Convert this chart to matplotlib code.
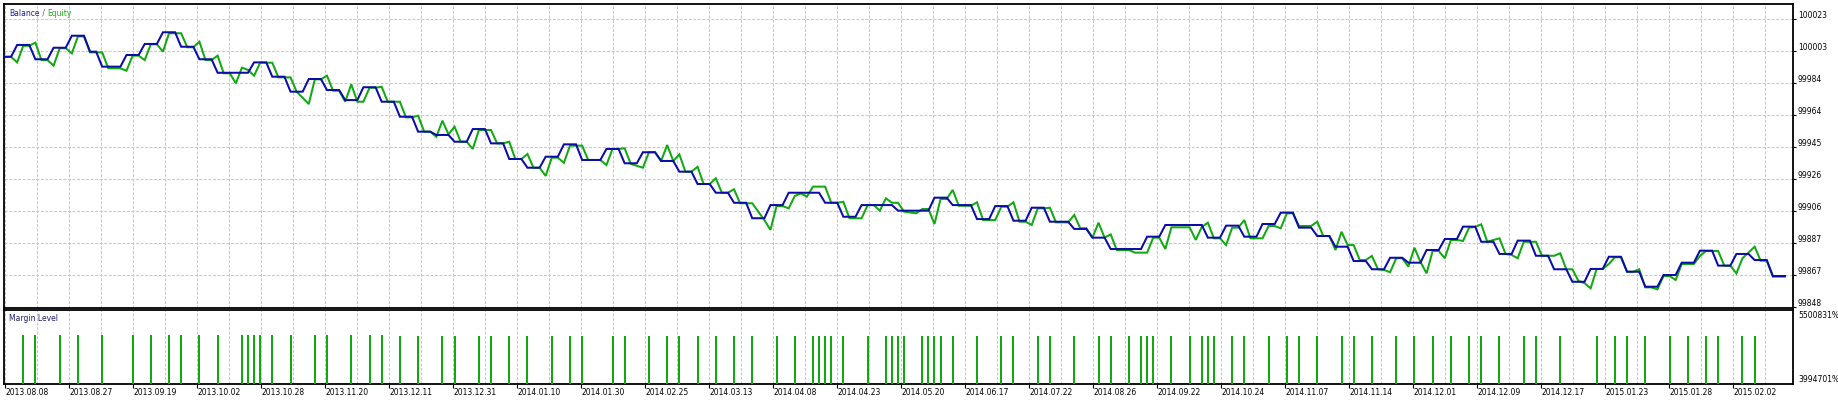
import matplotlib
matplotlib.use('Agg')
import matplotlib.pyplot as plt
from matplotlib.transforms import blended_transform_factory, ScaledTranslation

# ---- data ----------------------------------------------------------------
start_balance = 100000.0
last_deal = 293

# deal number where each trade closes (balance moves to the next level)
close_deal = [1, 4, 7, 10, 13, 15, 19, 22, 25, 28, 31, 34, 40, 43, 46, 49, 52,
              55, 58, 61, 64, 67, 70, 73, 76, 79, 82, 85, 88, 91, 94, 98, 101,
              104, 107, 110, 113, 116, 119, 122, 125, 128, 134, 137, 140, 146,
              152, 155, 159, 162, 165, 168, 171, 175, 178, 181, 187, 190, 197,
              200, 203, 206, 209, 212, 215, 218, 221, 224, 227, 230, 233, 236,
              239, 242, 245, 248, 251, 254, 257, 260, 263, 266, 269, 272, 275,
              278, 281, 284, 287, 290]
balance_after = [100007.2, 99998.5, 100005.5, 100012.8, 100003.1, 99994.0,
                 100001.1, 100007.8, 100014.9, 100006.1, 99998.5, 99990.3,
                 99996.6, 99987.9, 99978.8, 99986.5, 99979.8, 99973.7, 99981.5,
                 99972.7, 99963.6, 99954.5, 99952.5, 99948.4, 99956.1, 99947.4,
                 99937.9, 99932.6, 99939.3, 99946.8, 99937.3, 99944.0, 99935.3,
                 99942.0, 99936.7, 99930.2, 99922.7, 99917.4, 99911.3, 99901.9,
                 99909.9, 99917.4, 99911.3, 99902.8, 99909.9, 99906.5, 99914.4,
                 99909.9, 99901.4, 99909.3, 99900.4, 99908.3, 99899.8, 99895.4,
                 99890.1, 99883.2, 99890.7, 99897.8, 99890.1, 99897.4, 99890.7,
                 99898.4, 99905.3, 99896.2, 99891.1, 99884.6, 99875.9, 99870.9,
                 99877.9, 99874.9, 99882.6, 99889.3, 99896.8, 99887.6, 99880.2,
                 99888.3, 99879.1, 99870.9, 99863.3, 99871.1, 99878.5, 99869.4,
                 99860.3, 99867.4, 99874.9, 99882.2, 99873.1, 99880.2, 99876.5,
                 99866.8]

# equity curve corners (deal number, equity)
eq_deal = [0, 1, 2, 3, 4, 5, 6, 7, 8, 9, 10, 11, 12, 13, 14, 16, 17, 19, 20,
           21, 22, 23, 24, 25, 26, 27, 29, 30, 31, 32, 33, 34, 35, 36, 37, 38,
           39, 40, 41, 42, 44, 45, 47, 48, 50, 51, 52, 53, 54, 55, 56, 57, 58,
           59, 60, 61, 62, 63, 65, 66, 67, 68, 69, 70, 71, 72, 73, 74, 75, 76,
           77, 78, 80, 81, 82, 83, 84, 85, 86, 87, 88, 89, 90, 91, 92, 93, 95,
           96, 98, 99, 100, 101, 102, 103, 105, 106, 107, 108, 109, 110, 111,
           112, 113, 114, 115, 116, 117, 118, 119, 120, 121, 123, 125, 126,
           127, 128, 129, 130, 131, 132, 133, 135, 136, 137, 138, 139, 141,
           142, 143, 144, 145, 146, 147, 148, 150, 151, 152, 153, 154, 155,
           156, 157, 159, 160, 161, 163, 164, 165, 166, 167, 168, 169, 170,
           171, 172, 173, 175, 176, 177, 178, 179, 180, 181, 182, 183, 185,
           186, 188, 189, 190, 191, 192, 195, 196, 197, 198, 199, 200, 201,
           202, 203, 204, 205, 207, 208, 209, 210, 211, 212, 213, 215, 216,
           217, 218, 219, 220, 221, 222, 223, 224, 225, 226, 227, 228, 229,
           230, 231, 232, 233, 234, 235, 236, 237, 238, 239, 240, 241, 242,
           243, 244, 245, 246, 247, 248, 249, 250, 252, 253, 255, 256, 257,
           258, 259, 260, 261, 262, 263, 264, 265, 266, 267, 268, 269, 270,
           271, 272, 273, 274, 275, 276, 278, 279, 280, 282, 283, 284, 285,
           286, 288, 289, 290, 291, 293]
eq_value = [100000.0, 100000.0, 99996.6, 100006.7, 100006.7, 100008.6, 99998.0,
            99998.0, 99994.6, 100005.2, 100005.2, 100002.1, 100012.4, 100012.4,
            100002.7, 100002.7, 99993.0, 99993.0, 99991.5, 100000.7, 100000.7,
            99998.0, 100007.6, 100007.6, 100003.1, 100014.3, 100014.3, 100005.8,
            100005.8, 100009.2, 99998.0, 99998.0, 100000.7, 99990.0, 99990.0,
            99983.9, 99993.4, 99992.0, 99988.5, 99996.4, 99996.4, 99987.5,
            99987.5, 99978.8, 99971.3, 99986.3, 99986.3, 99988.5, 99979.4,
            99979.4, 99972.7, 99983.3, 99972.7, 99972.7, 99981.2, 99981.2,
            99981.8, 99972.7, 99972.7, 99963.2, 99963.2, 99964.2, 99954.5,
            99954.5, 99951.4, 99961.2, 99952.9, 99957.5, 99948.4, 99948.4,
            99944.0, 99955.5, 99955.5, 99947.4, 99947.4, 99948.4, 99937.9,
            99937.9, 99940.9, 99932.6, 99932.6, 99927.6, 99938.7, 99938.7,
            99935.6, 99946.0, 99946.0, 99937.3, 99937.3, 99934.2, 99944.0,
            99944.0, 99944.4, 99934.9, 99932.6, 99942.0, 99942.0, 99936.7,
            99946.4, 99936.7, 99940.7, 99930.2, 99930.2, 99933.2, 99922.7,
            99922.7, 99926.2, 99917.4, 99917.4, 99919.5, 99911.0, 99911.0,
            99900.8, 99894.8, 99909.3, 99909.3, 99907.9, 99915.4, 99917.0,
            99915.0, 99921.1, 99921.1, 99911.3, 99911.3, 99911.9, 99901.9,
            99901.9, 99909.9, 99909.9, 99906.5, 99914.0, 99911.3, 99911.3,
            99905.9, 99904.9, 99907.5, 99907.5, 99898.4, 99913.6, 99913.6,
            99919.1, 99909.5, 99909.5, 99911.6, 99900.8, 99900.8, 99908.9,
            99908.9, 99911.6, 99899.8, 99899.8, 99897.8, 99907.9, 99907.9,
            99908.3, 99899.4, 99899.4, 99903.9, 99895.8, 99895.8, 99890.1,
            99899.2, 99890.1, 99892.1, 99882.6, 99882.6, 99881.0, 99881.0,
            99890.1, 99890.1, 99883.2, 99896.4, 99896.4, 99888.7, 99896.6,
            99899.2, 99889.7, 99889.7, 99885.6, 99896.2, 99896.2, 99900.8,
            99889.7, 99889.7, 99897.2, 99897.2, 99895.8, 99904.9, 99904.9,
            99897.2, 99897.2, 99899.8, 99891.1, 99891.1, 99882.6, 99893.7,
            99885.6, 99885.6, 99876.5, 99876.5, 99879.0, 99870.9, 99870.5,
            99869.1, 99877.6, 99877.6, 99872.5, 99884.0, 99875.3, 99868.4,
            99882.0, 99882.0, 99877.6, 99888.7, 99888.7, 99888.1, 99896.2,
            99896.6, 99898.2, 99887.6, 99888.7, 99889.7, 99880.2, 99879.6,
            99877.6, 99887.6, 99887.6, 99879.1, 99879.1, 99880.6, 99870.9,
            99870.9, 99863.8, 99862.5, 99859.3, 99871.1, 99871.1, 99874.1,
            99878.2, 99878.2, 99869.4, 99869.4, 99870.9, 99859.9, 99859.9,
            99858.7, 99866.8, 99866.8, 99864.4, 99874.1, 99874.1, 99879.0,
            99882.0, 99882.0, 99873.1, 99873.1, 99868.4, 99877.6, 99884.6,
            99876.1, 99876.1, 99866.4, 99866.4]

# margin level (%) bars, by deal number
margin_deal = [3, 5, 9, 12, 16, 21, 24, 27, 29, 32, 35, 39, 40, 41, 42, 44, 47,
               51, 53, 57, 60, 62, 65, 68, 72, 74, 78, 80, 83, 86, 90, 93, 95,
               100, 102, 106, 109, 111, 114, 117, 120, 123, 127, 130, 133, 134,
               135, 136, 138, 142, 145, 146, 147, 148, 151, 152, 153, 154, 156,
               160, 164, 166, 170, 172, 176, 180, 182, 185, 187, 188, 189, 192,
               195, 197, 198, 199, 202, 204, 208, 211, 213, 216, 220, 222, 225,
               229, 232, 235, 238, 241, 243, 246, 250, 252, 256, 262, 265, 267,
               270, 274, 277, 280, 282, 286, 288]
margin_level = [5054000, 5054000, 5053000, 5054000, 5053000, 5053000, 5054000,
                5054000, 5053000, 5052000, 5053000, 5052000, 5052000, 5052000,
                5052000, 5052000, 5051000, 5051000, 5051000, 5050000, 5050000,
                5049000, 5032000, 5032000, 5031000, 5031000, 5031000, 5031000,
                5031000, 5031000, 5031000, 5031000, 5031000, 5031000, 5031000,
                5031000, 5031000, 5031000, 5031000, 5031000, 5031000, 5030000,
                5030000, 5030000, 5030000, 5030000, 5030000, 5030000, 5030000,
                5030000, 5030000, 5030000, 5030000, 5030000, 5030000, 5030000,
                5030000, 5030000, 5030000, 5030000, 5030000, 5030000, 5030000,
                5030000, 5030000, 5030000, 5029000, 5029000, 5029000, 5029000,
                5029000, 5029000, 5029000, 5029000, 5029000, 5029000, 5029000,
                5029000, 5029000, 5029000, 5029000, 5029000, 5029000, 5029000,
                5029000, 5029000, 5029000, 5029000, 5029000, 5029000, 5029000,
                5029000, 5029000, 5029000, 5029000, 5029000, 5029000, 5029000,
                5029000, 5029000, 5029000, 5029000, 5029000, 5029000, 5029000]
margin_max, margin_min = 5500831, 3994701

y_labels = ['100023', '100003', '99984', '99964', '99945', '99926', '99906',
            '99887', '99867', '99848']
y_top_grid = 100022.96
y_step = 19.443

date_labels = ['2013.08.08', '2013.08.27', '2013.09.19', '2013.10.02',
               '2013.10.28', '2013.11.20', '2013.12.11', '2013.12.31',
               '2014.01.10', '2014.01.30', '2014.02.25', '2014.03.13',
               '2014.04.08', '2014.04.23', '2014.05.20', '2014.06.17',
               '2014.07.22', '2014.08.26', '2014.09.22', '2014.10.24',
               '2014.11.07', '2014.11.14', '2014.12.01', '2014.12.09',
               '2014.12.17', '2015.01.23', '2015.01.28', '2015.02.02']

# ---- layout (pixels) --------------------------------------------------------
W, H = 1838, 401
BLUE = '#0c0ca6'
GREEN = '#12a812'
GRID = dict(color='#c8c8c8', linestyle=(0, (2.9, 1.45)), linewidth=0.75)
FS = 5.5
plt.rcParams['font.family'] = 'DejaVu Sans'

fig = plt.figure(figsize=(W / 100, H / 100), dpi=100)


def px_axes(left, top, right, bottom):
    return fig.add_axes([left / W, 1 - bottom / H, (right - left) / W,
                         (bottom - top) / H])


ax = px_axes(4, 4, 1793, 308)
axm = px_axes(4, 310, 1793, 384)

px_per_deal = 1780.0 / last_deal
xlim = (-1 / px_per_deal, 1788 / px_per_deal)
grid_x = [(0.3 + 32 * k) / px_per_deal for k in range(56)]
label_x = grid_x[::2]

# ---- balance / equity -------------------------------------------------------
bx, by = [0], [start_balance]
prev = start_balance
for d, v in zip(close_deal, balance_after):
    bx += [d, d + 1]
    by += [prev, v]
    prev = v
bx.append(last_deal)
by.append(prev)

ax.plot(eq_deal, eq_value, color=GREEN, lw=1.45, solid_joinstyle='miter',
        zorder=3)
ax.plot(bx, by, color=BLUE, lw=1.45, solid_joinstyle='miter', zorder=4)

y_ticks = [y_top_grid - y_step * k for k in range(len(y_labels))]
ax.set_xlim(*xlim)
ax.set_ylim(y_top_grid - 289 * y_step / 32, y_top_grid + 15 * y_step / 32)
ax.set_yticks(y_ticks)
ax.set_xticks(grid_x)
ax.yaxis.tick_right()
ax.tick_params(axis='y', length=2, width=0.8, labelright=False,
               labelleft=False)
ax.tick_params(axis='x', length=0, labelbottom=False)
ax.grid(True, **GRID)
ax.set_axisbelow(True)

lab_tr = blended_transform_factory(ax.transAxes, ax.transData) + \
    ScaledTranslation(5 / 100, 3.5 / 100, fig.dpi_scale_trans)
for v, s in zip(y_ticks, y_labels):
    ax.text(1, v, s, transform=lab_tr, fontsize=FS, va='center', ha='left',
            clip_on=False)

t1 = ax.text(5 / 1789, 1 - 9 / 304, 'Balance', transform=ax.transAxes,
             fontsize=FS, color='#1c1c9c', va='center', ha='left')
t2 = ax.annotate(' / ', xy=(1, 0), xycoords=t1, fontsize=FS,
                 color='#555555', va='bottom', ha='left')
ax.annotate('Equity', xy=(1, 0), xycoords=t2, fontsize=FS, color='#1fae1f',
            va='bottom', ha='left')

# ---- margin level -----------------------------------------------------------
per_px = (margin_max - margin_min) / 64.0
m_lo = margin_min - 4 * per_px
m_hi = margin_max + 6 * per_px
axm.vlines(margin_deal, m_lo, margin_level, color=GREEN, lw=1.45, zorder=3)
axm.set_xlim(*xlim)
axm.set_ylim(m_lo, m_hi)
axm.set_yticks([])
axm.set_xticks(label_x)
axm.set_xticks(grid_x, minor=True)
axm.set_xticklabels(date_labels, fontsize=FS, ha='left')
axm.tick_params(axis='x', which='major', length=3, width=0.8, pad=0.2)
axm.tick_params(axis='x', which='minor', length=0)
axm.grid(True, axis='x', which='both', **GRID)
axm.set_axisbelow(True)

axm.text(5 / 1789, (384 - 318.3) / 74, 'Margin Level', transform=axm.transAxes,
         fontsize=FS, color='#1c1c6c', va='center', ha='left')
for frac, s in [((384 - 316) / 74, f'{margin_max}%'),
                ((384 - 380) / 74, f'{margin_min}%')]:
    axm.text(1, frac, s, transform=axm.transAxes + ScaledTranslation(
        5 / 100, 0, fig.dpi_scale_trans), fontsize=FS, va='center',
        ha='left', clip_on=False)

for a in (ax, axm):
    for sp in a.spines.values():
        sp.set_linewidth(1.3)
        sp.set_color('black')

fig.savefig('out.png', dpi=100)
